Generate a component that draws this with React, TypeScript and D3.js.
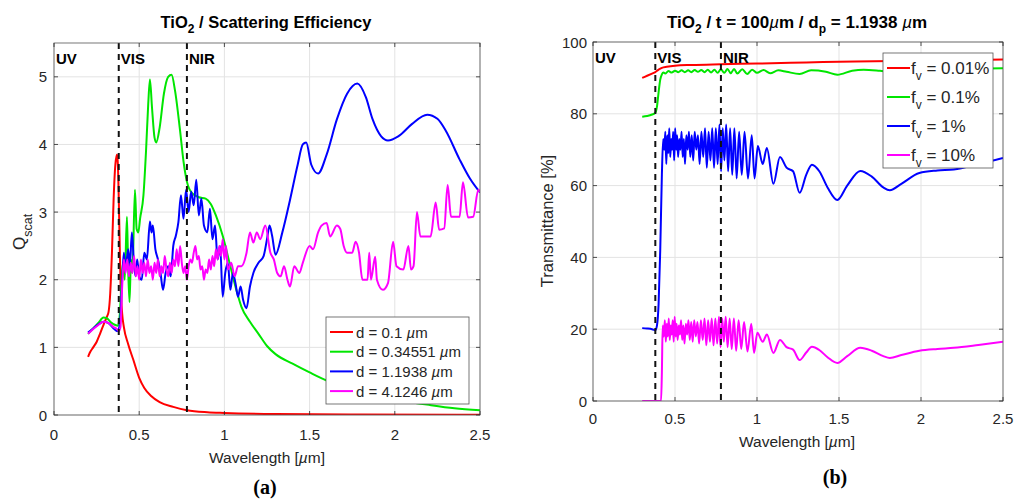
import React from 'react';
import * as d3 from 'd3';

type P = [number, number];

// ---------- shared axis data ----------
const xTicks = [0, 0.5, 1, 1.5, 2, 2.5];
const qTicks = [0, 1, 2, 3, 4, 5];
const tTicks = [0, 20, 40, 60, 80, 100];
const bandEdges = [0.38, 0.78];
const bandLabels = ['UV', 'VIS', 'NIR'];

// ---------- panel (a): scattering efficiency ----------
const qLabels = ['0.1', '0.34551', '1.1938', '4.1246'];
const qRed: P[] = [[0.2,0.86],[0.21,0.92],[0.23,1.0],[0.25,1.08],[0.27,1.2],[0.29,1.33],[0.31,1.45],[0.32,1.52],[0.33,1.8],[0.34,2.4],[0.35,3.2],[0.36,3.7],[0.37,3.85],[0.375,3.7],[0.38,3.2],[0.385,2.6],[0.39,2.0],[0.40,1.5],[0.41,1.3],[0.435,1.05],[0.465,0.82],[0.5,0.55],[0.53,0.4],[0.57,0.28],[0.62,0.19],[0.7,0.12],[0.78,0.07],[0.9,0.04],[1.0,0.03],[1.3,0.015],[1.8,0.008],[2.5,0.005]];
const qGreen: P[] = [[0.2,1.2],[0.23,1.28],[0.26,1.36],[0.29,1.44],[0.31,1.43],[0.33,1.38],[0.36,1.33],[0.375,1.32],[0.385,1.45],[0.395,1.9],[0.405,2.25],[0.415,2.0],[0.428,2.93],[0.435,2.2],[0.443,1.67],[0.452,2.3],[0.46,2.1],[0.475,3.33],[0.485,2.75],[0.495,2.7],[0.505,2.9],[0.525,3.25],[0.54,3.9],[0.553,4.6],[0.563,4.96],[0.575,4.55],[0.59,4.1],[0.6,4.03],[0.62,4.25],[0.645,4.75],[0.67,5.0],[0.69,5.03],[0.71,4.8],[0.74,4.2],[0.76,3.75],[0.78,3.45],[0.81,3.28],[0.85,3.22],[0.89,3.2],[0.92,3.12],[0.95,2.95],[0.99,2.65],[1.03,2.25],[1.07,1.85],[1.1,1.6],[1.15,1.38],[1.2,1.2],[1.25,1.02],[1.3,0.9],[1.4,0.76],[1.5,0.63],[1.6,0.51],[1.7,0.42],[1.8,0.34],[1.9,0.28],[2.0,0.23],[2.2,0.15],[2.35,0.1],[2.5,0.07]];
const qBlue: P[] = [[0.2,1.22],[0.23,1.28],[0.26,1.34],[0.29,1.38],[0.32,1.36],[0.35,1.28],[0.37,1.24],[0.38,1.27],[0.39,1.45],[0.40,2.0],[0.41,2.4],[0.42,2.15],[0.435,2.45],[0.445,2.2],[0.457,2.7],[0.468,2.3],[0.478,2.05],[0.488,2.3],[0.5,2.05],[0.515,2.0],[0.53,2.4],[0.545,2.3],[0.563,2.86],[0.572,2.7],[0.58,2.8],[0.595,2.45],[0.61,2.3],[0.625,2.1],[0.64,1.85],[0.655,2.1],[0.67,2.2],[0.685,2.05],[0.7,2.5],[0.715,2.65],[0.73,2.85],[0.745,3.25],[0.76,2.9],[0.775,3.33],[0.79,3.0],[0.805,3.3],[0.82,3.1],[0.835,3.48],[0.85,2.95],[0.865,3.2],[0.88,2.8],[0.9,2.7],[0.915,3.05],[0.93,2.6],[0.945,2.8],[0.96,2.3],[0.975,2.5],[0.99,1.75],[1.005,2.1],[1.02,2.25],[1.035,1.85],[1.05,2.1],[1.065,1.95],[1.08,1.75],[1.095,1.9],[1.11,1.7],[1.13,1.58],[1.15,1.9],[1.17,2.1],[1.2,2.25],[1.23,2.35],[1.25,2.6],[1.265,2.8],[1.28,2.65],[1.3,2.37],[1.34,2.7],[1.385,3.18],[1.43,3.7],[1.46,4.0],[1.48,4.03],[1.51,3.7],[1.55,3.57],[1.6,3.85],[1.66,4.37],[1.72,4.75],[1.78,4.9],[1.83,4.7],[1.87,4.37],[1.92,4.12],[1.96,4.06],[2.02,4.12],[2.1,4.3],[2.19,4.44],[2.25,4.38],[2.3,4.2],[2.38,3.78],[2.44,3.5],[2.5,3.29]];
const qMagenta: P[] = [[0.2,1.2],[0.23,1.27],[0.26,1.33],[0.29,1.38],[0.32,1.36],[0.35,1.3],[0.37,1.27],[0.38,1.24],[0.39,1.3],[0.40,1.9],[0.41,2.3],[0.42,2.1],[0.43,2.3],[0.44,2.05],[0.45,2.25],[0.46,2.1],[0.47,2.35],[0.48,2.05],[0.49,2.2],[0.5,2.0],[0.51,2.3],[0.52,2.1],[0.53,2.25],[0.54,2.05],[0.55,2.3],[0.56,2.1],[0.57,2.2],[0.58,2.0],[0.59,2.25],[0.6,2.1],[0.61,2.3],[0.62,2.05],[0.63,2.2],[0.64,2.1],[0.65,2.35],[0.66,2.15],[0.67,2.05],[0.68,2.25],[0.69,2.1],[0.7,2.3],[0.71,2.2],[0.72,2.45],[0.73,2.2],[0.74,2.5],[0.75,2.25],[0.76,2.1],[0.77,2.2],[0.78,2.0],[0.79,2.2],[0.8,2.3],[0.81,2.25],[0.82,2.4],[0.83,2.5],[0.84,2.3],[0.85,2.35],[0.86,2.15],[0.87,2.2],[0.88,2.0],[0.89,2.15],[0.9,2.1],[0.91,2.3],[0.92,2.15],[0.93,2.35],[0.94,2.2],[0.95,2.45],[0.96,2.3],[0.97,2.5],[0.98,2.35],[0.99,2.6],[1.0,2.3],[1.01,2.5],[1.02,2.15],[1.04,2.25],[1.06,2.05],[1.08,2.2],[1.1,2.2],[1.13,2.4],[1.15,2.7],[1.17,2.55],[1.19,2.7],[1.21,2.6],[1.24,2.8],[1.27,2.4],[1.29,2.3],[1.31,2.1],[1.33,2.05],[1.35,2.2],[1.37,2.0],[1.385,1.9],[1.41,2.2],[1.44,2.1],[1.46,2.25],[1.5,2.5],[1.52,2.45],[1.55,2.7],[1.57,2.8],[1.6,2.84],[1.62,2.64],[1.66,2.8],[1.68,2.75],[1.70,2.5],[1.72,2.4],[1.75,2.4],[1.77,2.56],[1.79,2.4],[1.81,2.0],[1.84,2.0],[1.85,2.4],[1.86,2.0],[1.885,2.34],[1.895,2.0],[1.93,1.85],[1.96,1.95],[1.99,2.56],[2.01,2.2],[2.05,2.15],[2.08,2.5],[2.095,2.15],[2.11,2.2],[2.13,3.0],[2.15,2.64],[2.21,2.64],[2.24,3.14],[2.26,2.74],[2.29,2.76],[2.31,3.4],[2.33,2.93],[2.38,2.93],[2.40,3.44],[2.43,2.92],[2.46,2.93],[2.49,3.33],[2.5,3.3]];

// ---------- panel (b): transmittance ----------
const tLabels = ['0.01%', '0.1%', '1%', '10%'];
const tRed: P[] = [[0.3,90],[0.33,90.6],[0.36,91.2],[0.38,91.6],[0.4,92.3],[0.42,92.8],[0.45,93.1],[0.5,93.4],[0.6,93.6],[0.78,93.8],[1.0,94],[1.3,94.3],[1.6,94.6],[2.0,94.8],[2.5,95.1]];
const tGreen: P[] = [[0.3,79.2],[0.33,79.4],[0.36,79.8],[0.38,80.3],[0.39,82],[0.4,86],[0.41,89.5],[0.42,91.0],[0.43,91.5],[0.44,91.2],[0.46,91.9],[0.48,91.5],[0.5,92.0],[0.52,91.6],[0.54,92.1],[0.56,91.6],[0.58,92.1],[0.6,91.6],[0.62,92.2],[0.64,91.7],[0.66,92.2],[0.68,91.6],[0.7,92.3],[0.72,91.5],[0.74,92.3],[0.76,91.4],[0.78,92.4],[0.80,91.4],[0.82,92.5],[0.84,91.3],[0.86,92.5],[0.88,91.2],[0.91,92.4],[0.94,91.1],[0.97,92.3],[1.0,91.4],[1.04,92.2],[1.08,91.3],[1.13,92.1],[1.18,91.7],[1.26,91.1],[1.33,92.1],[1.42,91.7],[1.49,90.9],[1.58,92.0],[1.65,92.3],[1.75,92.0],[1.82,91.7],[1.9,92.1],[2.0,92.4],[2.2,92.5],[2.5,92.7]];
const tBlue: P[] = [[0.3,20.3],[0.33,20.2],[0.36,20],[0.38,19.7],[0.39,21],[0.40,27],[0.41,42],[0.42,63],[0.428,73],[0.435,70],[0.441,75],[0.447,66],[0.453,74],[0.459,69],[0.465,76],[0.471,68],[0.477,73],[0.483,70],[0.489,75],[0.495,67],[0.501,76],[0.507,70],[0.513,74],[0.519,68],[0.526,73],[0.533,70],[0.54,75],[0.547,68],[0.554,73],[0.561,66],[0.569,74],[0.577,70],[0.585,75],[0.593,68],[0.602,74],[0.611,67],[0.62,75],[0.63,70],[0.64,74],[0.65,66],[0.661,75],[0.672,68],[0.683,76],[0.694,65],[0.705,75],[0.716,67],[0.727,76],[0.738,65],[0.749,76],[0.76,66],[0.771,77],[0.781,64],[0.791,76],[0.801,67],[0.812,77],[0.824,64],[0.836,76],[0.849,63],[0.862,76],[0.876,62],[0.891,75],[0.907,63],[0.924,75],[0.945,62],[0.968,74],[0.985,62],[1.005,71],[1.035,66],[1.06,70.5],[1.1,60.5],[1.14,68],[1.18,65],[1.22,64],[1.26,58],[1.3,63],[1.335,65.8],[1.38,64],[1.43,59.5],[1.49,56],[1.55,60],[1.63,64.1],[1.7,62.5],[1.77,59.5],[1.81,58.7],[1.88,60.5],[1.99,63.5],[2.1,64.2],[2.2,64.5],[2.35,66],[2.5,67.7]];
const tMagenta: P[] = [[0.3,0],[0.36,0],[0.415,0],[0.42,8],[0.425,21],[0.432,18],[0.438,22.5],[0.444,16.5],[0.45,21.5],[0.456,18],[0.462,23],[0.468,17],[0.474,21],[0.48,18.5],[0.486,22.5],[0.492,16.5],[0.498,23.5],[0.504,18],[0.51,21.5],[0.516,17],[0.523,21],[0.53,18.5],[0.537,22.5],[0.544,17],[0.551,21],[0.558,16],[0.566,21.5],[0.574,18.5],[0.582,22.5],[0.59,17],[0.599,22],[0.608,16.5],[0.617,22.5],[0.627,18],[0.637,22],[0.647,16],[0.658,22.5],[0.669,17],[0.68,23],[0.691,15.5],[0.702,22.5],[0.713,16.5],[0.724,23],[0.735,15.5],[0.746,23],[0.757,16],[0.768,23.5],[0.778,15],[0.788,23],[0.798,16.5],[0.809,23.5],[0.821,15],[0.833,23],[0.846,14.5],[0.859,23],[0.873,14],[0.888,22.5],[0.904,14.5],[0.921,22],[0.942,13.8],[0.965,21.5],[0.982,13.4],[1.002,19],[1.035,16.5],[1.06,18.5],[1.1,13.4],[1.14,17],[1.18,15],[1.22,14.3],[1.26,11.4],[1.3,13.5],[1.335,15.1],[1.38,14.2],[1.43,12.2],[1.49,10.6],[1.55,12.5],[1.63,14.8],[1.7,14],[1.77,12.5],[1.81,12],[1.88,12.8],[1.99,14],[2.1,14.5],[2.2,14.8],[2.35,15.6],[2.5,16.5]];

const colors = ['#ff0000', '#00e600', '#0000ff', '#ff00ff'];
const FONT = '"Liberation Sans", Arial, Helvetica, sans-serif';
const AX = '#262626';

type PanelProps = {
  id: string;
  xr: [number, number];
  yr: [number, number];
  ydom: [number, number];
  yticks: number[];
  series: P[][];
  ytickX: number;
  xtickY: number;
};

function Panel({ id, xr, yr, ydom, yticks, series, ytickX, xtickY }: PanelProps) {
  const x = d3.scaleLinear().domain([0, 2.5]).range(xr);
  const y = d3.scaleLinear().domain(ydom).range(yr);
  const line = d3.line<P>().x(d => x(d[0])).y(d => y(d[1])).curve(d3.curveMonotoneX);
  const [L, R] = xr;
  const [B, T] = yr;
  const bandX = [L, ...bandEdges.map(e => x(e))];
  return (
    <g>
      <defs>
        <clipPath id={id}>
          <rect x={L} y={T} width={R - L} height={B - T} />
        </clipPath>
      </defs>
      <rect x={L} y={T} width={R - L} height={B - T} fill="#fff" />
      {xTicks.map(t => (
        <line key={'gx' + t} x1={x(t)} x2={x(t)} y1={T} y2={B} stroke="#e3e3e3" strokeWidth={1} />
      ))}
      {yticks.map(t => (
        <line key={'gy' + t} x1={L} x2={R} y1={y(t)} y2={y(t)} stroke="#e3e3e3" strokeWidth={1} />
      ))}
      <g clipPath={`url(#${id})`}>
        {series.map((s, i) => (
          <path key={i} d={line(s) || ''} fill="none" stroke={colors[i]} strokeWidth={2} strokeLinejoin="round" />
        ))}
        {bandEdges.map(e => (
          <line key={'d' + e} x1={x(e)} x2={x(e)} y1={T} y2={B} stroke="#111" strokeWidth={2} strokeDasharray="6,5" />
        ))}
      </g>
      <rect x={L} y={T} width={R - L} height={B - T} fill="none" stroke="#555" strokeWidth={0.8} />
      {xTicks.map(t => (
        <g key={'tx' + t}>
          <line x1={x(t)} x2={x(t)} y1={B} y2={B - 4} stroke={AX} strokeWidth={0.8} />
          <line x1={x(t)} x2={x(t)} y1={T} y2={T + 4} stroke={AX} strokeWidth={0.8} />
          <text x={x(t)} y={xtickY} textAnchor="middle" fontSize={15} fill={AX} fontFamily={FONT}>{String(t)}</text>
        </g>
      ))}
      {yticks.map(t => (
        <g key={'ty' + t}>
          <line x1={L} x2={L + 4} y1={y(t)} y2={y(t)} stroke={AX} strokeWidth={0.8} />
          <line x1={R} x2={R - 4} y1={y(t)} y2={y(t)} stroke={AX} strokeWidth={0.8} />
          <text x={ytickX} y={y(t) + 5.5} textAnchor="end" fontSize={15} fill={AX} fontFamily={FONT}>{String(t)}</text>
        </g>
      ))}
      {bandLabels.map((b, i) => (
        <text key={b} x={bandX[i] + 2} y={T + 21} fontSize={15} fontWeight="bold" fill="#000" fontFamily={FONT}>{b}</text>
      ))}
    </g>
  );
}

export default function App() {
  const lxL = 54, lxR = 480, lyB = 415, lyT = 43;
  const rxL = 593, rxR = 1003, ryB = 401, ryT = 42;
  return (
    <svg width={1017} height={499} style={{ position: 'absolute', left: 0, top: 0, background: '#fff' }}>
      <rect width={1017} height={499} fill="#fff" />
      {/* panel a */}
      <text x={266} y={28} textAnchor="middle" fontSize={16.5} fontWeight="bold" fill="#000" fontFamily={FONT}>
        TiO<tspan dy={5} fontSize={12}>2</tspan><tspan dy={-5}> / Scattering Efficiency</tspan>
      </text>
      <Panel id="ca" xr={[lxL, lxR]} yr={[lyB, lyT]} ydom={[0, 5.5]} yticks={qTicks}
        series={[qRed, qGreen, qBlue, qMagenta]} ytickX={47} xtickY={440} />
      <text transform="translate(25,250) rotate(-90)" fontSize={17} fill={AX} fontFamily={FONT}>
        Q<tspan dy={7} fontSize={12.5}>scat</tspan>
      </text>
      <text x={267} y={463} textAnchor="middle" fontSize={15.5} fill={AX} fontFamily={FONT}>
        Wavelength [<tspan fontStyle="italic">µ</tspan>m]
      </text>
      <g>
        <rect x={326} y={317} width={143} height={87} fill="#fff" stroke="#555" strokeWidth={0.8} />
        {qLabels.map((lab, i) => (
          <g key={lab}>
            <line x1={330} x2={353} y1={332 + i * 19.7} y2={332 + i * 19.7} stroke={colors[i]} strokeWidth={2} />
            <text x={356} y={337.5 + i * 19.7} fontSize={15} fill={AX} fontFamily={FONT}>
              d = {lab} <tspan fontStyle="italic">µ</tspan>m
            </text>
          </g>
        ))}
      </g>
      <text x={265} y={494} textAnchor="middle" fontSize={20} fontWeight="bold" fill="#000" fontFamily='"Liberation Serif", "Times New Roman", serif'>(a)</text>

      {/* panel b */}
      <text x={797} y={28} textAnchor="middle" fontSize={17} fontWeight="bold" fill="#000" fontFamily={FONT}>
        TiO<tspan dy={5} fontSize={12}>2</tspan><tspan dy={-5}> / t = 100</tspan><tspan fontStyle="italic" fontWeight="normal">µ</tspan><tspan>m / d</tspan><tspan dy={5} fontSize={12}>p</tspan><tspan dy={-5}> = 1.1938 </tspan><tspan fontStyle="italic" fontWeight="normal">µ</tspan><tspan>m</tspan>
      </text>
      <Panel id="cb" xr={[rxL, rxR]} yr={[ryB, ryT]} ydom={[0, 100]} yticks={tTicks}
        series={[tRed, tGreen, tBlue, tMagenta]} ytickX={587} xtickY={424} />
      <text transform="translate(553,221) rotate(-90)" textAnchor="middle" fontSize={16.5} fill={AX} fontFamily={FONT}>
        Transmittance [%]
      </text>
      <text x={797} y={447} textAnchor="middle" fontSize={15.5} fill={AX} fontFamily={FONT}>
        Wavelength [<tspan fontStyle="italic">µ</tspan>m]
      </text>
      <g>
        <rect x={883} y={53} width={110} height={115} fill="#fff" stroke="#555" strokeWidth={0.8} />
        {tLabels.map((lab, i) => (
          <g key={lab}>
            <line x1={887} x2={910} y1={68 + i * 29} y2={68 + i * 29} stroke={colors[i]} strokeWidth={2} />
            <text x={911} y={74 + i * 29} fontSize={17} fill={AX} fontFamily={FONT}>
              f<tspan dy={6} fontSize={12}>v</tspan><tspan dy={-6}> = {lab}</tspan>
            </text>
          </g>
        ))}
      </g>
      <text x={835} y={484} textAnchor="middle" fontSize={20} fontWeight="bold" fill="#000" fontFamily='"Liberation Serif", "Times New Roman", serif'>(b)</text>
    </svg>
  );
}
